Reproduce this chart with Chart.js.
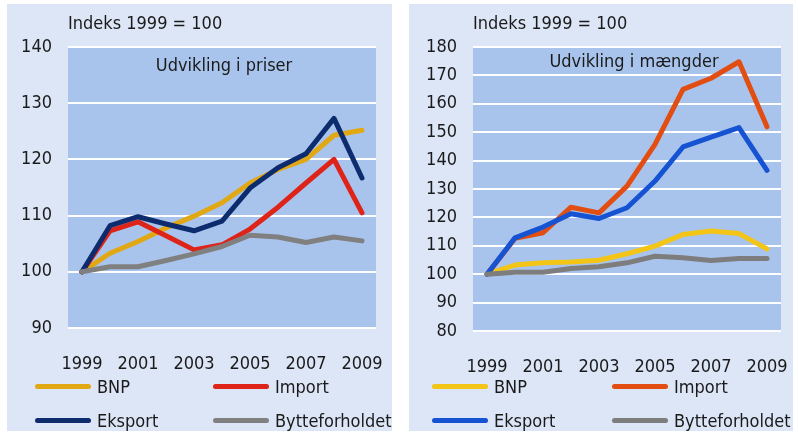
<!DOCTYPE html>
<html>
<head>
<meta charset="utf-8">
<script src="https://cdn.jsdelivr.net/npm/chart.js@4.4.0/dist/chart.umd.min.js"></script>
<style>
  body { margin: 0; background: #fff; }
  #wrap { position: relative; width: 798px; height: 437px; background: #fff; overflow: hidden;
          font-family: "DejaVu Sans Condensed", "DejaVu Sans", sans-serif; font-stretch: condensed; color: #1a1a1a; }
  .panel { position: absolute; top: 4px; height: 427px; background: #DDE6F7; }
  .panel canvas { position: absolute; left: 0; top: 0; }
  .head { position: absolute; top: 8px; font-size: 18px; line-height: 22px; white-space: nowrap; }
  .leg { position: absolute; font-size: 18px; line-height: 22px; white-space: nowrap; }
  .leg .ln { position: absolute; left: 0; width: 56px; height: 5px; border-radius: 3px; }
  .leg .tx { position: absolute; left: 62px; top: -8px; }
</style>
</head>
<body>
<div id="wrap">
  <div class="panel" id="p1" style="left:7px;width:385px;">
    <canvas id="c1" width="385" height="427"></canvas>
    <div class="head" style="left:61px;">Indeks 1999 = 100</div>
  </div>
  <div class="panel" id="p2" style="left:409px;width:384px;">
    <canvas id="c2" width="384" height="427"></canvas>
    <div class="head" style="left:64px;">Indeks 1999 = 100</div>
  </div>
</div>
<script>
const years = ['1999', '2000', '2001', '2002', '2003', '2004', '2005', '2006', '2007', '2008', '2009'];
const seriesNames = ['BNP', 'Import', 'Eksport', 'Bytteforholdet'];

// Udvikling i priser
const priserBNP     = [100, 103.3, 105.4, 107.8, 109.9, 112.3, 115.8, 118.2, 120.0, 124.3, 125.2];
const priserImport  = [100, 107.3, 108.9, 106.4, 103.9, 104.8, 107.6, 111.5, 115.8, 120.0, 110.5];
const priserEksport = [100, 108.2, 109.8, 108.5, 107.3, 109.0, 114.9, 118.5, 121.0, 127.3, 116.7];
const priserBytte   = [100, 100.9, 100.9, 102.0, 103.2, 104.5, 106.5, 106.2, 105.2, 106.2, 105.5];

// Udvikling i mængder
const maengderBNP     = [100, 103.2, 104.0, 104.3, 104.9, 107.2, 109.9, 114.0, 115.2, 114.3, 108.9];
const maengderImport  = [100, 112.6, 114.6, 123.6, 121.6, 131.0, 145.7, 165.1, 169.0, 174.8, 151.9];
const maengderEksport = [100, 112.8, 116.6, 121.3, 119.6, 123.4, 132.8, 144.8, 148.3, 151.6, 136.6];
const maengderBytte   = [100, 100.7, 100.7, 102.0, 102.6, 104.0, 106.3, 105.8, 104.8, 105.5, 105.5];

const priserTicks = [90, 100, 110, 120, 130, 140];
const maengderTicks = [80, 90, 100, 110, 120, 130, 140, 150, 160, 170, 180];

const colorsPriser = ['#E2A814', '#DE2419', '#0C2C6E', '#808080'];
const colorsMaengder = ['#F2C516', '#E24D12', '#1553D3', '#7D7D7D'];

const FONT = '"DejaVu Sans Condensed", "DejaVu Sans", sans-serif';

const plotBg = {
    id: 'plotBg',
    beforeDraw(chart) {
        const { ctx, chartArea: a } = chart;
        ctx.save();
        ctx.fillStyle = '#A9C4EC';
        ctx.fillRect(a.left, a.top, a.right - a.left, a.bottom - a.top);
        ctx.restore();
    }
};

const innerTitle = {
    id: 'innerTitle',
    beforeDatasetsDraw(chart, args, opts) {
        const { ctx, chartArea: a } = chart;
        ctx.save();
        ctx.font = '18px ' + FONT;
        ctx.fillStyle = '#1a1a1a';
        ctx.textAlign = 'center';
        ctx.textBaseline = 'middle';
        ctx.fillText(opts.text, (a.left + a.right) / 2 + opts.dx, a.top + opts.dy);
        ctx.restore();
    }
};

function makeChart(id, title, dx, dy, values, colors, ticks, area) {
    const order = [3, 2, 1, 0];
    new Chart(document.getElementById(id), {
        type: 'line',
        data: {
            labels: years,
            datasets: seriesNames.map((name, i) => ({
                label: name,
                data: values[i],
                borderColor: colors[i],
                borderWidth: 5,
                borderCapStyle: 'round',
                borderJoinStyle: 'round',
                pointRadius: 0,
                tension: 0,
                order: order[i]
            }))
        },
        options: {
            responsive: false,
            animation: false,
            devicePixelRatio: 1,
            layout: { padding: { left: 0, top: area.top, right: area.right, bottom: 0 } },
            plugins: {
                legend: { display: false },
                tooltip: { enabled: false },
                innerTitle: { text: title, dx, dy }
            },
            scales: {
                x: {
                    type: 'category',
                    offset: true,
                    grid: { display: false },
                    border: { display: false },
                    afterFit(axis) {
                        axis.height = area.xh;
                        axis.paddingLeft = 0;
                        axis.paddingRight = 0;
                    },
                    ticks: {
                        autoSkip: false,
                        maxRotation: 0,
                        padding: area.xpad,
                        color: '#1a1a1a',
                        font: { family: FONT, size: 18 },
                        callback(v, i) { return i % 2 === 0 ? this.getLabelForValue(v) : ''; }
                    }
                },
                y: {
                    min: ticks[0],
                    max: ticks[ticks.length - 1],
                    afterFit(axis) {
                        axis.width = area.left;
                        axis.paddingTop = 0;
                        axis.paddingBottom = 0;
                    },
                    afterBuildTicks(axis) { axis.ticks = ticks.map(v => ({ value: v })); },
                    grid: { color: '#ffffff', lineWidth: 2, drawTicks: false },
                    border: { display: false },
                    ticks: {
                        padding: 16,
                        color: '#1a1a1a',
                        font: { family: FONT, size: 18 }
                    }
                }
            }
        },
        plugins: [plotBg, innerTitle]
    });
}

function makeLegend(panelId, colors, cols) {
    const panel = document.getElementById(panelId);
    const rows = [380, 414];
    seriesNames.forEach((name, i) => {
        const d = document.createElement('div');
        d.className = 'leg';
        d.style.left = cols[i % 2] + 'px';
        d.style.top = rows[Math.floor(i / 2)] + 'px';
        d.innerHTML = '<div class="ln" style="background:' + colors[i] + '"></div><div class="tx">' + name + '</div>';
        panel.appendChild(d);
    });
}

makeChart('c1', 'Udvikling i priser', 2, 19,
    [priserBNP, priserImport, priserEksport, priserBytte], colorsPriser, priserTicks,
    { top: 43, right: 16, left: 61, xh: 103, xpad: 18 });
makeChart('c2', 'Udvikling i mængder', 7, 15,
    [maengderBNP, maengderImport, maengderEksport, maengderBytte], colorsMaengder, maengderTicks,
    { top: 43, right: 12, left: 64, xh: 100, xpad: 18 });

makeLegend('p1', colorsPriser, [28, 206]);
makeLegend('p2', colorsMaengder, [23, 203]);
</script>
</body>
</html>
